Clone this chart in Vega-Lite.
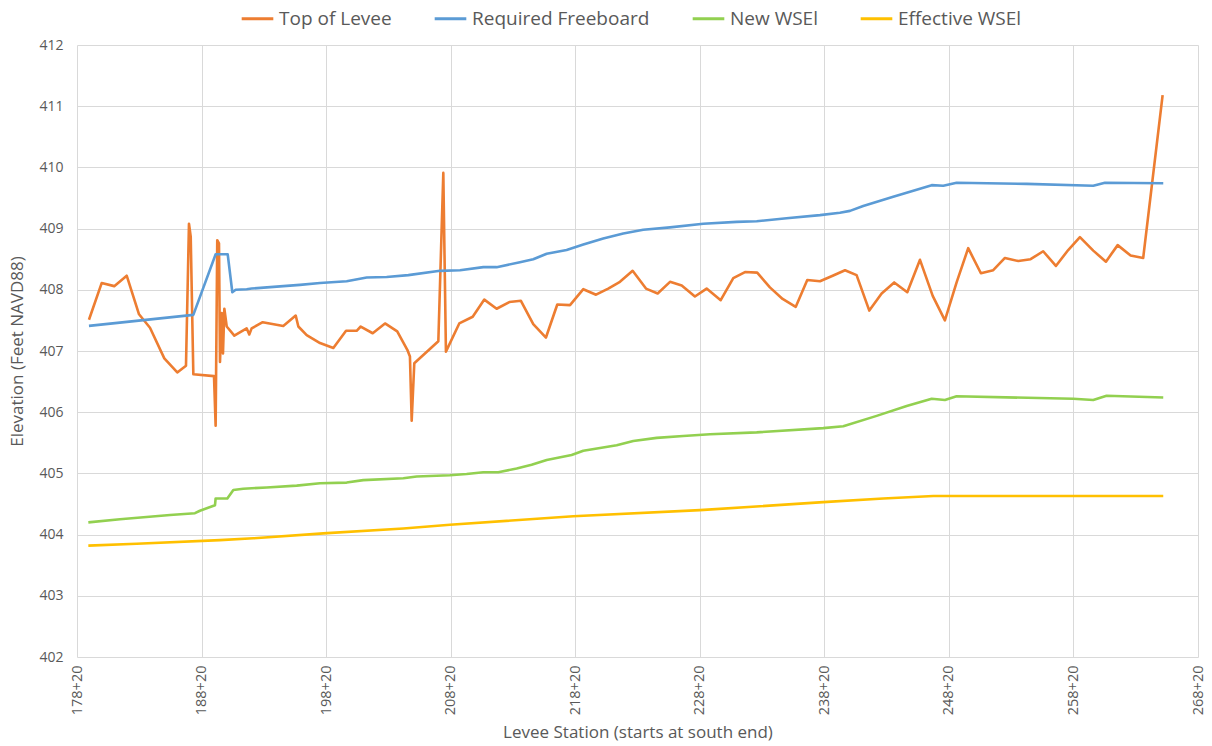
{
"$schema":"https://vega.github.io/schema/vega-lite/v6.json",
"width":1121,"height":612,"autosize":{"type":"none"},
"padding":{"left":77,"top":45,"right":14,"bottom":89},
"background":"white",
"config":{"font":"Open Sans","view":{"stroke":null}},
"data":{"values":[
{"series":"Top of Levee","station":17916,"elevation":407.51},{"series":"Top of Levee","station":18018,"elevation":408.11},{"series":"Top of Levee","station":18119,"elevation":408.06},{"series":"Top of Levee","station":18219,"elevation":408.23},{"series":"Top of Levee","station":18318,"elevation":407.60},{"series":"Top of Levee","station":18406,"elevation":407.38},{"series":"Top of Levee","station":18521,"elevation":406.88},{"series":"Top of Levee","station":18625,"elevation":406.65},{"series":"Top of Levee","station":18695,"elevation":406.76},{"series":"Top of Levee","station":18719,"elevation":409.08},{"series":"Top of Levee","station":18733,"elevation":408.87},{"series":"Top of Levee","station":18754,"elevation":406.62},{"series":"Top of Levee","station":18920,"elevation":406.59},{"series":"Top of Levee","station":18933,"elevation":405.78},{"series":"Top of Levee","station":18946,"elevation":408.81},{"series":"Top of Levee","station":18960,"elevation":408.76},{"series":"Top of Levee","station":18968,"elevation":406.82},{"series":"Top of Levee","station":18982,"elevation":407.62},{"series":"Top of Levee","station":18992,"elevation":406.96},{"series":"Top of Levee","station":19003,"elevation":407.69},{"series":"Top of Levee","station":19022,"elevation":407.40},{"series":"Top of Levee","station":19083,"elevation":407.25},{"series":"Top of Levee","station":19182,"elevation":407.37},{"series":"Top of Levee","station":19203,"elevation":407.27},{"series":"Top of Levee","station":19222,"elevation":407.37},{"series":"Top of Levee","station":19311,"elevation":407.47},{"series":"Top of Levee","station":19476,"elevation":407.41},{"series":"Top of Levee","station":19576,"elevation":407.58},{"series":"Top of Levee","station":19597,"elevation":407.40},{"series":"Top of Levee","station":19664,"elevation":407.26},{"series":"Top of Levee","station":19771,"elevation":407.13},{"series":"Top of Levee","station":19878,"elevation":407.05},{"series":"Top of Levee","station":19980,"elevation":407.33},{"series":"Top of Levee","station":20065,"elevation":407.33},{"series":"Top of Levee","station":20098,"elevation":407.40},{"series":"Top of Levee","station":20194,"elevation":407.29},{"series":"Top of Levee","station":20293,"elevation":407.45},{"series":"Top of Levee","station":20391,"elevation":407.32},{"series":"Top of Levee","station":20472,"elevation":407.02},{"series":"Top of Levee","station":20493,"elevation":406.91},{"series":"Top of Levee","station":20507,"elevation":405.86},{"series":"Top of Levee","station":20528,"elevation":406.80},{"series":"Top of Levee","station":20721,"elevation":407.16},{"series":"Top of Levee","station":20761,"elevation":409.91},{"series":"Top of Levee","station":20782,"elevation":406.99},{"series":"Top of Levee","station":20889,"elevation":407.45},{"series":"Top of Levee","station":20997,"elevation":407.56},{"series":"Top of Levee","station":21090,"elevation":407.84},{"series":"Top of Levee","station":21189,"elevation":407.69},{"series":"Top of Levee","station":21291,"elevation":407.80},{"series":"Top of Levee","station":21384,"elevation":407.82},{"series":"Top of Levee","station":21483,"elevation":407.44},{"series":"Top of Levee","station":21585,"elevation":407.22},{"series":"Top of Levee","station":21676,"elevation":407.76},{"series":"Top of Levee","station":21778,"elevation":407.75},{"series":"Top of Levee","station":21885,"elevation":408.01},{"series":"Top of Levee","station":21987,"elevation":407.92},{"series":"Top of Levee","station":22085,"elevation":408.02},{"series":"Top of Levee","station":22179,"elevation":408.13},{"series":"Top of Levee","station":22281,"elevation":408.31},{"series":"Top of Levee","station":22388,"elevation":408.02},{"series":"Top of Levee","station":22482,"elevation":407.94},{"series":"Top of Levee","station":22581,"elevation":408.13},{"series":"Top of Levee","station":22675,"elevation":408.07},{"series":"Top of Levee","station":22781,"elevation":407.89},{"series":"Top of Levee","station":22875,"elevation":408.02},{"series":"Top of Levee","station":22988,"elevation":407.83},{"series":"Top of Levee","station":23089,"elevation":408.19},{"series":"Top of Levee","station":23183,"elevation":408.29},{"series":"Top of Levee","station":23281,"elevation":408.28},{"series":"Top of Levee","station":23383,"elevation":408.04},{"series":"Top of Levee","station":23485,"elevation":407.85},{"series":"Top of Levee","station":23590,"elevation":407.72},{"series":"Top of Levee","station":23683,"elevation":408.16},{"series":"Top of Levee","station":23785,"elevation":408.14},{"series":"Top of Levee","station":23887,"elevation":408.23},{"series":"Top of Levee","station":23986,"elevation":408.32},{"series":"Top of Levee","station":24079,"elevation":408.24},{"series":"Top of Levee","station":24181,"elevation":407.66},{"series":"Top of Levee","station":24280,"elevation":407.94},{"series":"Top of Levee","station":24381,"elevation":408.12},{"series":"Top of Levee","station":24486,"elevation":407.96},{"series":"Top of Levee","station":24588,"elevation":408.49},{"series":"Top of Levee","station":24690,"elevation":407.90},{"series":"Top of Levee","station":24788,"elevation":407.50},{"series":"Top of Levee","station":24882,"elevation":408.12},{"series":"Top of Levee","station":24975,"elevation":408.68},{"series":"Top of Levee","station":25077,"elevation":408.27},{"series":"Top of Levee","station":25176,"elevation":408.32},{"series":"Top of Levee","station":25270,"elevation":408.52},{"series":"Top of Levee","station":25377,"elevation":408.47},{"series":"Top of Levee","station":25476,"elevation":408.50},{"series":"Top of Levee","station":25577,"elevation":408.63},{"series":"Top of Levee","station":25679,"elevation":408.39},{"series":"Top of Levee","station":25778,"elevation":408.65},{"series":"Top of Levee","station":25872,"elevation":408.86},{"series":"Top of Levee","station":25979,"elevation":408.64},{"series":"Top of Levee","station":26081,"elevation":408.46},{"series":"Top of Levee","station":26175,"elevation":408.73},{"series":"Top of Levee","station":26279,"elevation":408.56},{"series":"Top of Levee","station":26380,"elevation":408.52},{"series":"Top of Levee","station":26536,"elevation":411.18},
{"series":"Required Freeboard","station":17916,"elevation":407.41},{"series":"Required Freeboard","station":18754,"elevation":407.59},{"series":"Required Freeboard","station":18933,"elevation":408.58},{"series":"Required Freeboard","station":19030,"elevation":408.58},{"series":"Required Freeboard","station":19067,"elevation":407.96},{"series":"Required Freeboard","station":19094,"elevation":408.00},{"series":"Required Freeboard","station":19182,"elevation":408.01},{"series":"Required Freeboard","station":19222,"elevation":408.02},{"series":"Required Freeboard","station":19476,"elevation":408.06},{"series":"Required Freeboard","station":19610,"elevation":408.08},{"series":"Required Freeboard","station":19771,"elevation":408.11},{"series":"Required Freeboard","station":19985,"elevation":408.14},{"series":"Required Freeboard","station":20146,"elevation":408.20},{"series":"Required Freeboard","station":20306,"elevation":408.21},{"series":"Required Freeboard","station":20480,"elevation":408.24},{"series":"Required Freeboard","station":20734,"elevation":408.31},{"series":"Required Freeboard","station":20895,"elevation":408.32},{"series":"Required Freeboard","station":21082,"elevation":408.37},{"series":"Required Freeboard","station":21189,"elevation":408.37},{"series":"Required Freeboard","station":21376,"elevation":408.45},{"series":"Required Freeboard","station":21483,"elevation":408.50},{"series":"Required Freeboard","station":21591,"elevation":408.59},{"series":"Required Freeboard","station":21751,"elevation":408.65},{"series":"Required Freeboard","station":21885,"elevation":408.74},{"series":"Required Freeboard","station":22045,"elevation":408.84},{"series":"Required Freeboard","station":22206,"elevation":408.92},{"series":"Required Freeboard","station":22366,"elevation":408.98},{"series":"Required Freeboard","station":22581,"elevation":409.02},{"series":"Required Freeboard","station":22848,"elevation":409.08},{"series":"Required Freeboard","station":23116,"elevation":409.11},{"series":"Required Freeboard","station":23277,"elevation":409.12},{"series":"Required Freeboard","station":23517,"elevation":409.17},{"series":"Required Freeboard","station":23785,"elevation":409.22},{"series":"Required Freeboard","station":23945,"elevation":409.26},{"series":"Required Freeboard","station":24026,"elevation":409.29},{"series":"Required Freeboard","station":24132,"elevation":409.37},{"series":"Required Freeboard","station":24373,"elevation":409.52},{"series":"Required Freeboard","station":24682,"elevation":409.71},{"series":"Required Freeboard","station":24775,"elevation":409.70},{"series":"Required Freeboard","station":24882,"elevation":409.75},{"series":"Required Freeboard","station":25444,"elevation":409.73},{"series":"Required Freeboard","station":25979,"elevation":409.70},{"series":"Required Freeboard","station":26073,"elevation":409.75},{"series":"Required Freeboard","station":26541,"elevation":409.74},
{"series":"New WSEl","station":17911,"elevation":404.20},{"series":"New WSEl","station":18165,"elevation":404.25},{"series":"New WSEl","station":18567,"elevation":404.32},{"series":"New WSEl","station":18767,"elevation":404.35},{"series":"New WSEl","station":18807,"elevation":404.39},{"series":"New WSEl","station":18928,"elevation":404.48},{"series":"New WSEl","station":18933,"elevation":404.59},{"series":"New WSEl","station":19027,"elevation":404.59},{"series":"New WSEl","station":19075,"elevation":404.73},{"series":"New WSEl","station":19155,"elevation":404.75},{"series":"New WSEl","station":19343,"elevation":404.77},{"series":"New WSEl","station":19584,"elevation":404.80},{"series":"New WSEl","station":19771,"elevation":404.84},{"series":"New WSEl","station":19985,"elevation":404.85},{"series":"New WSEl","station":20118,"elevation":404.89},{"series":"New WSEl","station":20440,"elevation":404.92},{"series":"New WSEl","station":20547,"elevation":404.95},{"series":"New WSEl","station":20814,"elevation":404.97},{"series":"New WSEl","station":20948,"elevation":404.99},{"series":"New WSEl","station":21082,"elevation":405.02},{"series":"New WSEl","station":21202,"elevation":405.02},{"series":"New WSEl","station":21350,"elevation":405.08},{"series":"New WSEl","station":21470,"elevation":405.14},{"series":"New WSEl","station":21591,"elevation":405.22},{"series":"New WSEl","station":21791,"elevation":405.30},{"series":"New WSEl","station":21885,"elevation":405.37},{"series":"New WSEl","station":22153,"elevation":405.46},{"series":"New WSEl","station":22286,"elevation":405.53},{"series":"New WSEl","station":22474,"elevation":405.58},{"series":"New WSEl","station":22687,"elevation":405.61},{"series":"New WSEl","station":22902,"elevation":405.64},{"series":"New WSEl","station":23277,"elevation":405.67},{"series":"New WSEl","station":23811,"elevation":405.74},{"series":"New WSEl","station":23972,"elevation":405.77},{"series":"New WSEl","station":24240,"elevation":405.94},{"series":"New WSEl","station":24481,"elevation":406.10},{"series":"New WSEl","station":24682,"elevation":406.22},{"series":"New WSEl","station":24788,"elevation":406.20},{"series":"New WSEl","station":24882,"elevation":406.26},{"series":"New WSEl","station":25818,"elevation":406.22},{"series":"New WSEl","station":25979,"elevation":406.20},{"series":"New WSEl","station":26086,"elevation":406.27},{"series":"New WSEl","station":26541,"elevation":406.24},
{"series":"Effective WSEl","station":17911,"elevation":403.82},{"series":"Effective WSEl","station":18299,"elevation":403.85},{"series":"Effective WSEl","station":18968,"elevation":403.91},{"series":"Effective WSEl","station":19235,"elevation":403.94},{"series":"Effective WSEl","station":19797,"elevation":404.02},{"series":"Effective WSEl","station":20440,"elevation":404.10},{"series":"Effective WSEl","station":20814,"elevation":404.16},{"series":"Effective WSEl","station":21804,"elevation":404.30},{"series":"Effective WSEl","station":22821,"elevation":404.40},{"series":"Effective WSEl","station":23811,"elevation":404.53},{"series":"Effective WSEl","station":24293,"elevation":404.59},{"series":"Effective WSEl","station":24695,"elevation":404.63},{"series":"Effective WSEl","station":26541,"elevation":404.63}
]},
"mark":{"type":"line","strokeWidth":2.6,"strokeJoin":"round"},
"encoding":{
"x":{"field":"station","type":"quantitative","scale":{"domain":[17820,26820],"nice":false,"zero":false},
"axis":{"values":[17820,18820,19820,20820,21820,22820,23820,24820,25820,26820],"labelExpr":"floor(datum.value/100)+'+'+(datum.value%100)","labelAngle":-90,"labelFontSize":14.5,"labelColor":"#595959","labelPadding":8,"ticks":false,"domain":false,"grid":true,"gridColor":"#d9d9d9","gridWidth":1,"title":"Levee Station (starts at south end)","titleFontSize":17,"titleFontWeight":"normal","titleColor":"#595959","titlePadding":10}},
"y":{"field":"elevation","type":"quantitative","scale":{"domain":[402,412],"nice":false,"zero":false},
"axis":{"values":[402,403,404,405,406,407,408,409,410,411,412],"labelFontSize":14,"labelColor":"#595959","labelPadding":14,"ticks":false,"domain":false,"grid":true,"gridColor":"#d9d9d9","gridWidth":1,"title":"Elevation (Feet NAVD88)","titleFontSize":17,"titleFontWeight":"normal","titleColor":"#595959","titlePadding":12}},
"color":{"field":"series","type":"nominal","scale":{"domain":["Top of Levee","Required Freeboard","New WSEl","Effective WSEl"],"range":["#ED7D31","#5B9BD5","#92D050","#FFC000"]},
"legend":{"title":null,"orient":"none","legendX":163,"legendY":-44,"direction":"horizontal","symbolType":"stroke","symbolStrokeWidth":3,"symbolSize":1000,"labelFontSize":19,"labelLimit":400,"labelColor":"#595959","columnPadding":36,"labelOffset":4}}
}
}
